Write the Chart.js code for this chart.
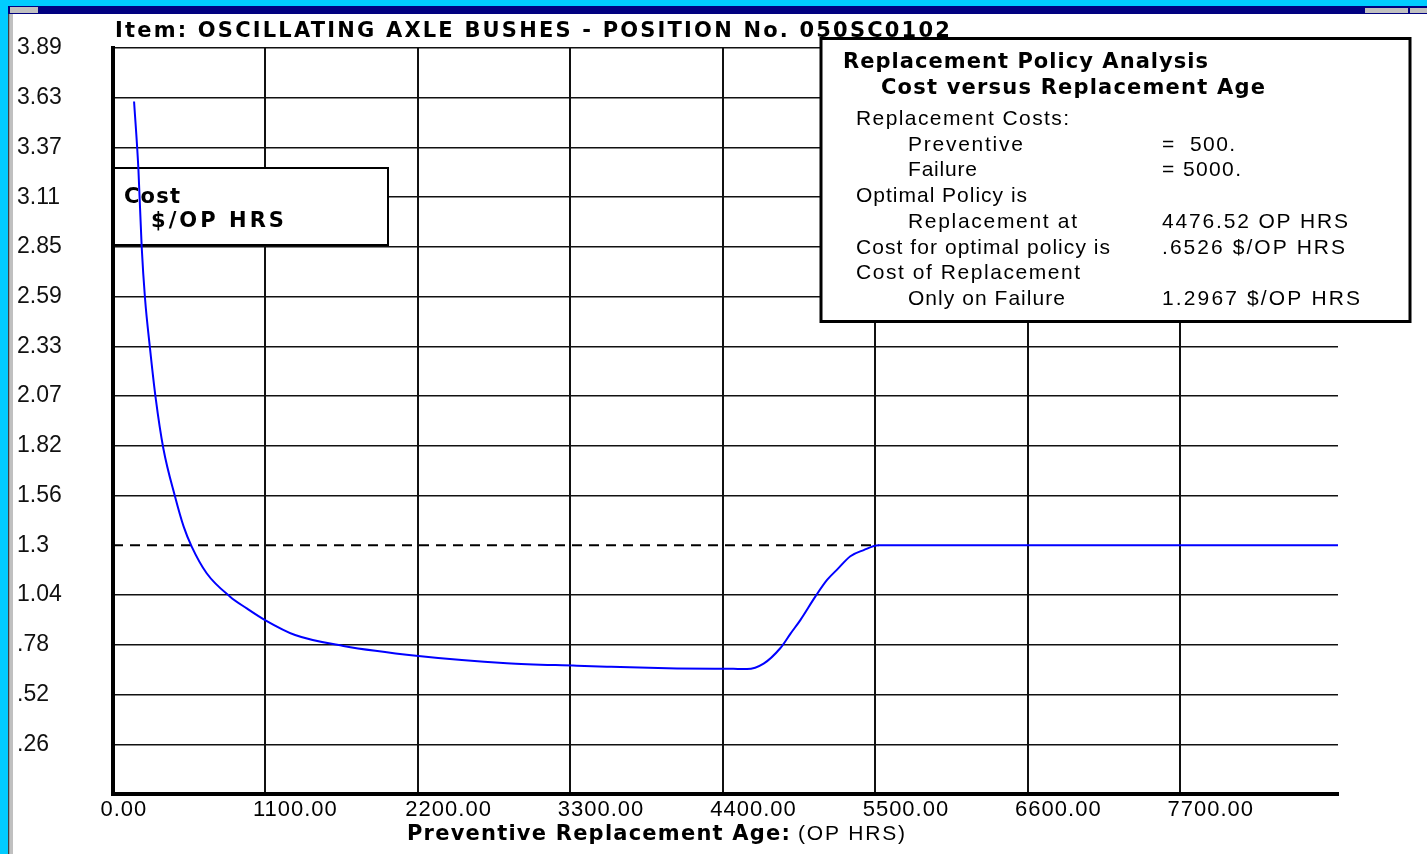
<!DOCTYPE html>
<html lang="en">
<head>
<meta charset="UTF-8">
<title>Cost versus Replacement Age</title>
<script src="https://cdn.jsdelivr.net/npm/chart.js"></script>
<style>
  html, body { margin: 0; padding: 0; background: #fff; }
  #wrap { width: 1427px; height: 854px; }
</style>
</head>
<body>
<div id="wrap"><canvas id="chart"></canvas></div>
<script>
  // values
  const ages = [152, 183, 207, 231, 267, 308, 363, 448, 510, 568, 676, 845, 965, 1097, 1314, 1663,
    2204, 2842, 3348, 3564, 4070, 4476.52, 4575, 4695, 4815, 4888, 4960, 5068, 5153, 5225, 5321, 5417, 5525, 8840];
  const costs = [3.611, 3.263, 2.854, 2.585, 2.324, 2.064, 1.803, 1.550, 1.394, 1.290, 1.151, 1.029,
    0.968, 0.907, 0.829, 0.772, 0.720, 0.682, 0.669, 0.664, 0.655, 0.6526, 0.652, 0.680, 0.760, 0.835, 0.907,
    1.029, 1.116, 1.170, 1.240, 1.272, 1.2967, 1.2967];

  const failureOnlyCost = 1.2967;
  const dashAges = [0, 5525];

  const xTicks = [0, 1100, 2200, 3300, 4400, 5500, 6600, 7700];
  const xTickLabels = ['0.00', '1100.00', '2200.00', '3300.00', '4400.00', '5500.00', '6600.00', '7700.00'];
  const yTicks = [0, 0.2593, 0.5187, 0.778, 1.0374, 1.2967, 1.556, 1.8154, 2.0747, 2.334, 2.5934,
    2.8527, 3.112, 3.3714, 3.6307, 3.8901];
  const yTickLabels = ['', '.26', '.52', '.78', '1.04', '1.3', '1.56', '1.82', '2.07', '2.33', '2.59',
    '2.85', '3.11', '3.37', '3.63', '3.89'];

  const chartTitle = 'Item: OSCILLATING AXLE BUSHES - POSITION No. 050SC0102';
  const legendLines = ['Cost', '$/OP HRS'];
  const infoHeads = ['Replacement Policy Analysis', 'Cost versus Replacement Age'];
  const infoLabels = ['Replacement Costs:', 'Preventive', 'Failure', 'Optimal Policy is', 'Replacement at',
    'Cost for optimal policy is', 'Cost of Replacement', 'Only on Failure'];
  const infoValues = ['', '=  500.', '= 5000.', '', '4476.52 OP HRS', '.6526 $/OP HRS', '', '1.2967 $/OP HRS'];

  // layout of the text block (pixels)
  const rowY = [119, 145, 170, 196, 222, 248, 273, 299];
  const rowIndent = [0, 1, 1, 0, 1, 0, 0, 1];
  const labelW = [213, 115, 69, 171, 169, 254, 224, 157];
  const valueW = [0, 73, 79, 0, 186, 183, 0, 198];

  const BOLD = 'bold 21px "DejaVu Sans", "Liberation Sans", sans-serif';
  const NORMAL = '21px "Liberation Sans", Arial, sans-serif';
  const FONT = '"Liberation Sans", Arial, sans-serif';

  function txt(ctx, s, x, y, font, spacing, baseline) {
    ctx.font = font;
    ctx.letterSpacing = spacing + 'px';
    ctx.textAlign = 'left';
    ctx.textBaseline = baseline || 'alphabetic';
    ctx.fillStyle = '#000';
    ctx.fillText(s, x, y);
    ctx.letterSpacing = '0px';
  }

  // spread text so it spans w pixels, like the old bitmap font
  function fitTxt(ctx, s, x, y, font, w, baseline) {
    ctx.font = font;
    ctx.letterSpacing = '0px';
    const m = ctx.measureText(s).width;
    const sp = Math.max(0, (w - m) / Math.max(1, s.length - 1));
    txt(ctx, s, x, y, font, sp.toFixed(2), baseline);
  }

  const decor = {
    id: 'decor',
    beforeDraw(chart) {
      const ctx = chart.ctx;
      ctx.save();
      ctx.fillStyle = '#fff';
      ctx.fillRect(0, 0, chart.width, chart.height);
      // window frame bits
      ctx.fillStyle = '#00ccff';
      ctx.fillRect(0, 0, chart.width, 6);
      ctx.fillRect(0, 0, 8, chart.height);
      ctx.fillStyle = '#000080';
      ctx.fillRect(8, 6, chart.width - 8, 8);
      ctx.fillStyle = '#c0c0c0';
      ctx.fillRect(10, 7, 28, 6);
      ctx.fillRect(1365, 8, 43, 5);
      ctx.fillRect(1410, 8, 17, 5);
      ctx.fillRect(10, 14, 3, chart.height - 14);
      ctx.fillStyle = '#404040';
      ctx.fillRect(8, 14, 1.5, chart.height - 14);
      ctx.restore();
    },
    beforeDatasetsDraw(chart) {
      // "Cost $/OP HRS" label box sits under the curve
      const ctx = chart.ctx;
      ctx.save();
      ctx.fillStyle = '#fff';
      ctx.fillRect(115, 168, 273, 77);
      ctx.strokeStyle = '#000';
      ctx.lineWidth = 2;
      ctx.strokeRect(114, 168, 274, 77);
      fitTxt(ctx, legendLines[0], 124, 203, BOLD, 56);
      fitTxt(ctx, legendLines[1], 151, 227, BOLD, 133);
      ctx.restore();
    },
    afterDraw(chart) {
      const ctx = chart.ctx;
      const xs = chart.scales.x;
      ctx.save();
      xTicks.forEach((v, i) => {
        txt(ctx, xTickLabels[i], xs.getPixelForValue(v) - 12.5, 816, '22px ' + FONT, 1);
      });
      fitTxt(ctx, 'Preventive Replacement Age:', 407, 840, BOLD, 383);
      fitTxt(ctx, '(OP HRS)', 798, 840, NORMAL, 107);
      fitTxt(ctx, chartTitle, 115, 37, BOLD, 835);

      // policy box
      ctx.fillStyle = '#fff';
      ctx.fillRect(821, 38.5, 589, 283);
      ctx.strokeStyle = '#000';
      ctx.lineWidth = 3;
      ctx.strokeRect(821, 38.5, 589, 283);
      fitTxt(ctx, infoHeads[0], 843, 63, BOLD, 365, 'middle');
      fitTxt(ctx, infoHeads[1], 881, 89, BOLD, 384, 'middle');
      infoLabels.forEach((s, i) => {
        fitTxt(ctx, s, rowIndent[i] ? 908 : 856, rowY[i], NORMAL, labelW[i], 'middle');
        if (infoValues[i]) fitTxt(ctx, infoValues[i], 1162, rowY[i], NORMAL, valueW[i], 'middle');
      });
      ctx.restore();
    }
  };

  const ctx = document.getElementById('chart').getContext('2d');
  new Chart(ctx, {
    type: 'line',
    data: {
      datasets: [
        {
          label: 'Cost',
          data: ages.map((a, i) => ({ x: a, y: costs[i] })),
          borderColor: '#0000ff',
          borderWidth: 2,
          pointRadius: 0,
          cubicInterpolationMode: 'monotone',
          fill: false
        },
        {
          label: 'Failure only',
          data: dashAges.map(a => ({ x: a, y: failureOnlyCost })),
          borderColor: '#000',
          borderWidth: 2,
          borderDash: [10, 7],
          pointRadius: 0,
          fill: false
        }
      ]
    },
    options: {
      responsive: true,
      maintainAspectRatio: false,
      animation: false,
      layout: { padding: { top: 48, left: 17, right: 89, bottom: 0 } },
      plugins: { legend: { display: false }, tooltip: { enabled: false } },
      scales: {
        x: {
          type: 'linear',
          min: 0,
          max: 8840,
          afterBuildTicks: s => { s.ticks = xTicks.map(v => ({ value: v })); },
          afterFit: s => { s.height = 60; },
          ticks: { display: false },
          grid: { color: '#111', lineWidth: 2, drawTicks: false },
          border: { color: '#000', width: 4 }
        },
        y: {
          min: 0,
          max: 3.8901,
          afterBuildTicks: s => { s.ticks = yTicks.map(v => ({ value: v })); },
          afterFit: s => { s.width = 96; },
          ticks: {
            crossAlign: 'far',
            color: '#111',
            font: { family: FONT, size: 23 },
            callback: (v, i) => yTickLabels[i]
          },
          // the 1.3 line is shown only by the dashed failure-cost line
          grid: {
            color: c => (c.index === 5 ? 'rgba(0,0,0,0)' : '#111'),
            lineWidth: 1.5,
            drawTicks: false
          },
          border: { color: '#000', width: 4 }
        }
      }
    },
    plugins: [decor]
  });
</script>
</body>
</html>
